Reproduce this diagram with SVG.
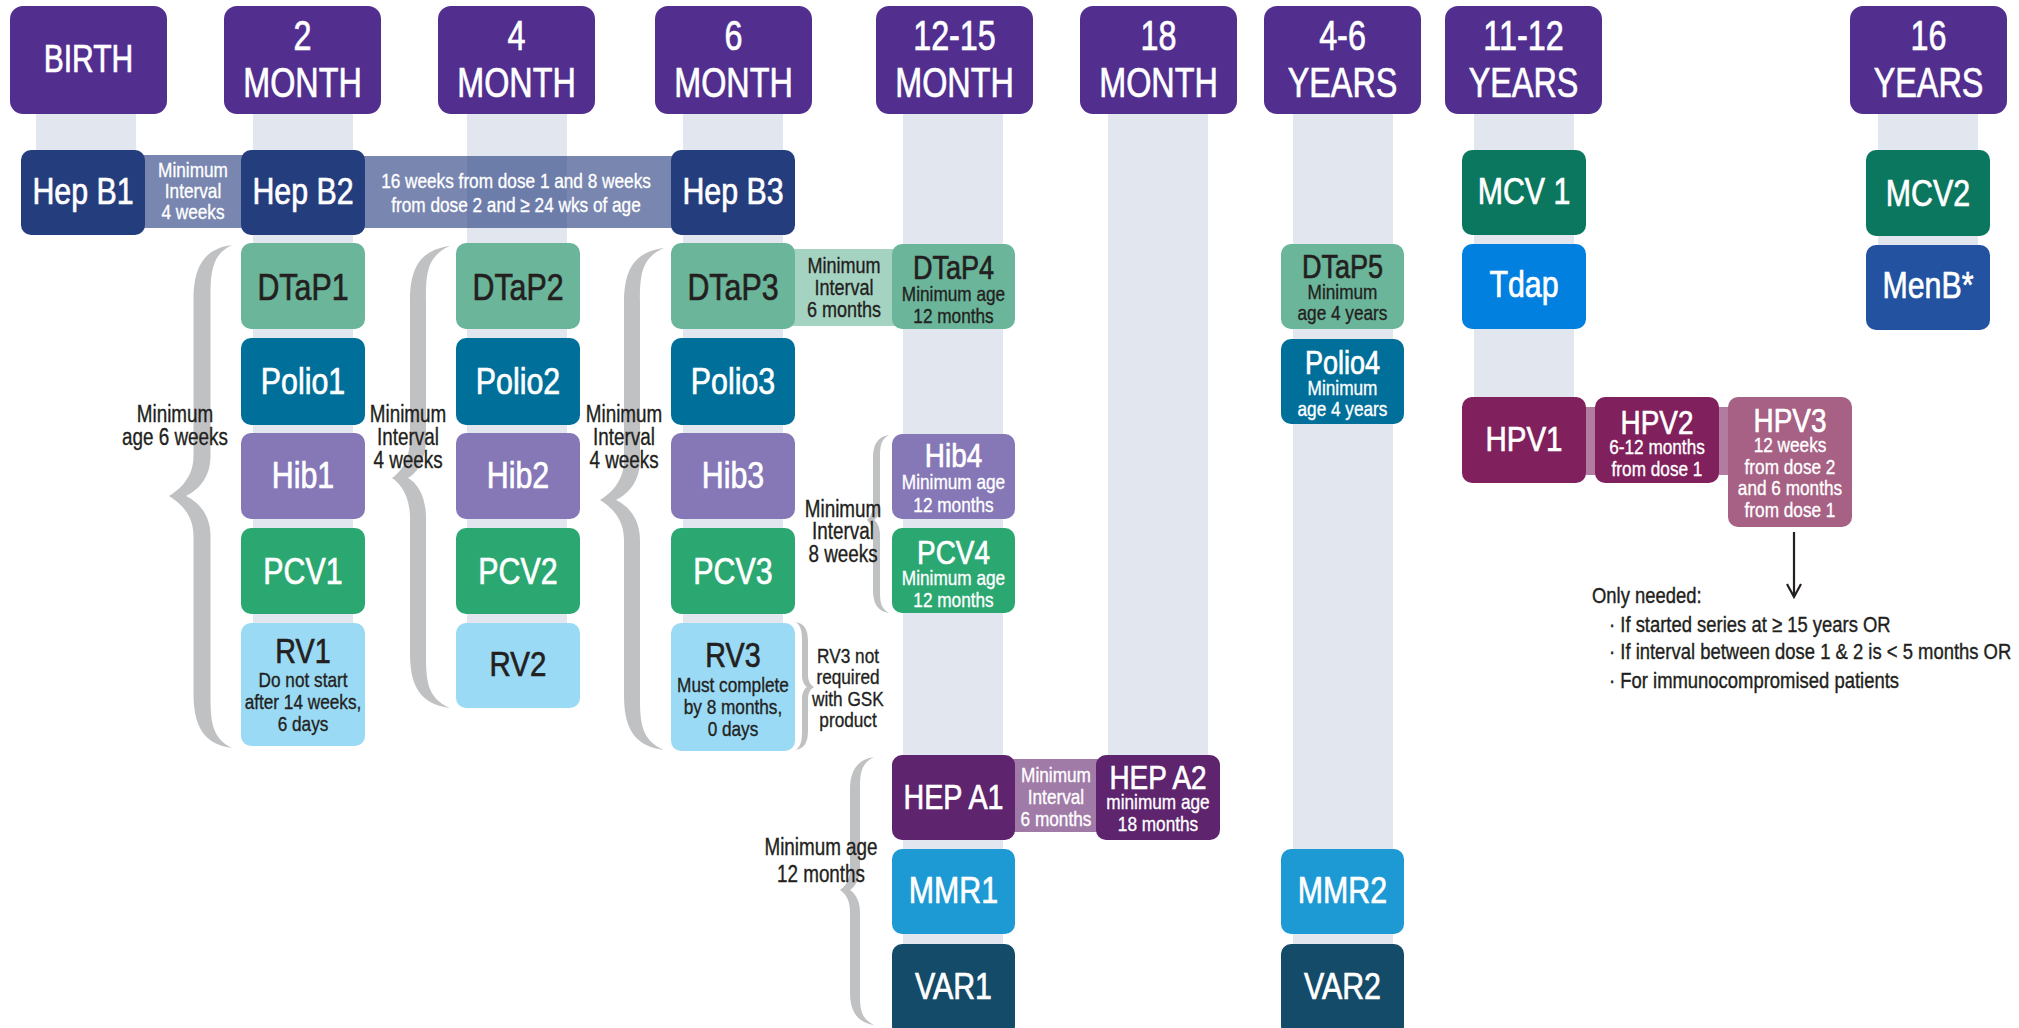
<svg xmlns="http://www.w3.org/2000/svg" width="2019" height="1028" viewBox="0 0 2019 1028">
<defs>
<style>
text{font-family:"Liberation Sans","Arial",sans-serif;text-anchor:middle;transform:scaleX(0.82);transform-box:fill-box;transform-origin:center}
.hdr rect{fill:#522F8F}
.hdr text{fill:#fff;stroke:#fff;stroke-width:0.7px;font-size:42px;transform:scaleX(0.77)}
.bar{fill:#E1E6EF}
.t{font-size:37px;fill:#fff;stroke:#fff;stroke-width:0.7px}
.td{font-size:37px;fill:#231F20;stroke:#231F20;stroke-width:0.7px}
.s{font-size:21px;fill:#fff;stroke:#fff;stroke-width:0.35px}
.sd{font-size:21px;fill:#231F20;stroke:#231F20;stroke-width:0.35px}
.lbl{font-size:23px;fill:#231F20;stroke:#231F20;stroke-width:0.35px}
.brace{fill:#C0C1C3}
.hepb{fill:#233D7D}
.dtap{fill:#6BB59A}
.polio{fill:#00709A}
.hib{fill:#8677B7}
.pcv{fill:#2BA872}
.rv{fill:#9ADAF5}
.hepa{fill:#5E246E}
.mmr{fill:#1D9AD4}
.var{fill:#144B69}
.mcv{fill:#0B775E}
.tdap{fill:#0280E0}
.menb{fill:#2352A0}
.hpv{fill:#80215D}
.hpv3{fill:#A66184}
.note{font-size:22.5px;fill:#231F20;stroke:#231F20;stroke-width:0.4px;text-anchor:start;transform-origin:left center}
</style>
</defs>
<rect width="2019" height="1028" fill="#fff"/>

<!-- column bars -->
<g id="bars">
<rect class="bar" x="36" y="113" width="100" height="40"/>
<rect class="bar" x="253" y="113" width="100" height="600"/>
<rect class="bar" x="467" y="113" width="100" height="540"/>
<rect class="bar" x="683" y="113" width="100" height="600"/>
<rect class="bar" x="903" y="113" width="100" height="915"/>
<rect class="bar" x="1108" y="113" width="100" height="680"/>
<rect class="bar" x="1293" y="113" width="100" height="915"/>
<rect class="bar" x="1474" y="113" width="100" height="320"/>
<rect class="bar" x="1878" y="113" width="100" height="170"/>
</g>

<!-- headers -->
<g id="h-birth" class="hdr"><rect x="10" y="6" width="157" height="108" rx="13"/><text x="88.5" y="72" style="font-size:39px">BIRTH</text></g>
<g id="h-2m" class="hdr"><rect x="224" y="6" width="157" height="108" rx="13"/><text x="302.5" y="50">2</text><text x="302.5" y="97">MONTH</text></g>
<g id="h-4m" class="hdr"><rect x="438" y="6" width="157" height="108" rx="13"/><text x="516.5" y="50">4</text><text x="516.5" y="97">MONTH</text></g>
<g id="h-6m" class="hdr"><rect x="655" y="6" width="157" height="108" rx="13"/><text x="733.5" y="50">6</text><text x="733.5" y="97">MONTH</text></g>
<g id="h-12m" class="hdr"><rect x="876" y="6" width="157" height="108" rx="13"/><text x="954.5" y="50">12-15</text><text x="954.5" y="97">MONTH</text></g>
<g id="h-18m" class="hdr"><rect x="1080" y="6" width="157" height="108" rx="13"/><text x="1158.5" y="50">18</text><text x="1158.5" y="97">MONTH</text></g>
<g id="h-4y" class="hdr"><rect x="1264" y="6" width="157" height="108" rx="13"/><text x="1342.5" y="50">4-6</text><text x="1342.5" y="97">YEARS</text></g>
<g id="h-11y" class="hdr"><rect x="1445" y="6" width="157" height="108" rx="13"/><text x="1523.5" y="50">11-12</text><text x="1523.5" y="97">YEARS</text></g>
<g id="h-16y" class="hdr"><rect x="1850" y="6" width="157" height="108" rx="13"/><text x="1928.5" y="50">16</text><text x="1928.5" y="97">YEARS</text></g>

<!-- connectors: interval bands, braces, arrow -->
<g id="connectors">
<rect x="140" y="155" width="106" height="73" fill="#253C80" fill-opacity="0.62"/>
<rect x="360" y="156" width="316" height="72" fill="#253C80" fill-opacity="0.62"/>
<rect x="790" y="249" width="107" height="77" fill="#A5D3C2"/>
<rect x="1010" y="759" width="91" height="73" fill="#A07BA8"/>
<rect x="1580" y="407" width="20" height="68" fill="#B27BA0"/>
<rect x="1714" y="407" width="20" height="68" fill="#B27BA0"/>
<path class="brace" d="M 232 245 C 201.5 249, 193.5 270, 193.5 300 L 193.5 456 C 193.5 481, 175 492, 169 496 C 175 500, 193.5 511, 193.5 536 L 193.5 693 C 193.5 723, 201.5 744, 232 748 C 210.5 738, 210.5 718, 210.5 693 L 210.5 536 C 210.5 508, 190 498, 186 496 C 190 494, 210.5 484, 210.5 456 L 210.5 300 C 210.5 275, 210.5 255, 232 245 Z"/>
<path class="brace" d="M 450 246 C 418 250, 410 271, 410 301 L 410 438 C 410 463, 398 474, 392 478 C 398 482, 410 493, 410 518 L 410 653 C 410 683, 418 704, 450 708 C 426 698, 426 678, 426 653 L 426 518 C 426 490, 412 480, 408 478 C 412 476, 426 466, 426 438 L 426 301 C 426 276, 426 256, 450 246 Z"/>
<path class="brace" d="M 664 248 C 632 252, 624 273, 624 303 L 624 460 C 624 485, 606 496, 600 500 C 606 504, 624 515, 624 540 L 624 695 C 624 725, 632 746, 664 750 C 640 740, 640 720, 640 695 L 640 540 C 640 512, 620 502, 616 500 C 620 498, 640 488, 640 460 L 640 303 C 640 278, 640 258, 664 248 Z"/>
<path class="brace" d="M 889 435 C 877 437, 873 445, 873 458 L 873 505 C 873 514, 869 518, 867 520 C 869 522, 873 526, 873 535 L 873 590 C 873 603, 877 611, 889 613 C 880 608, 880 600, 880 590 L 880 535 C 880 526, 876 521, 874 520 C 876 519, 880 514, 880 505 L 880 458 C 880 448, 880 440, 889 435 Z"/>
<path class="brace" d="M 796 622 C 805 624, 808 630, 808 642 L 808 675 C 808 682, 811 685, 814 687 C 811 689, 808 692, 808 699 L 808 730 C 808 742, 805 748, 796 750 C 802 745, 802 738, 802 730 L 802 699 C 802 692, 805 688, 807 687 C 805 686, 802 682, 802 675 L 802 642 C 802 634, 802 627, 796 622 Z"/>
<path class="brace" d="M 874 757 C 856 760, 850 772, 850 790 L 850 868 C 850 882, 844 887, 840 890 C 844 893, 850 898, 850 912 L 850 992 C 850 1010, 856 1022, 874 1025 C 860 1018, 860 1008, 860 992 L 860 912 C 860 898, 853 892, 850 890 C 853 888, 860 882, 860 868 L 860 790 C 860 775, 860 764, 874 757 Z"/>
<path d="M 1794 532 L 1794 597 M 1787 584 L 1794 597 L 1801 584" fill="none" stroke="#231F20" stroke-width="2.2"/>
</g>

<!-- interval / brace labels -->
<g id="labels">
<text class="s" x="193" y="177">Minimum</text><text class="s" x="193" y="198">Interval</text><text class="s" x="193" y="219">4 weeks</text>
<text class="s" x="516" y="188">16 weeks from dose 1 and 8 weeks</text><text class="s" x="516" y="212">from dose 2 and ≥ 24 wks of age</text>
<text class="sd" x="844" y="273" style="font-size:22px">Minimum</text><text class="sd" x="844" y="295" style="font-size:22px">Interval</text><text class="sd" x="844" y="317" style="font-size:22px">6 months</text>
<text class="s" x="1056" y="782">Minimum</text><text class="s" x="1056" y="804">Interval</text><text class="s" x="1056" y="826">6 months</text>
<text class="lbl" x="175" y="422">Minimum</text><text class="lbl" x="175" y="445">age 6 weeks</text>
<text class="lbl" x="408" y="422">Minimum</text><text class="lbl" x="408" y="445">Interval</text><text class="lbl" x="408" y="468">4 weeks</text>
<text class="lbl" x="624" y="422">Minimum</text><text class="lbl" x="624" y="445">Interval</text><text class="lbl" x="624" y="468">4 weeks</text>
<text class="lbl" x="843" y="517">Minimum</text><text class="lbl" x="843" y="539">Interval</text><text class="lbl" x="843" y="562">8 weeks</text>
<text class="sd" x="848" y="663">RV3 not</text><text class="sd" x="848" y="684">required</text><text class="sd" x="848" y="706">with GSK</text><text class="sd" x="848" y="727">product</text>
<text class="lbl" x="821" y="855">Minimum age</text><text class="lbl" x="821" y="882">12 months</text>
</g>

<!-- Birth -->
<g id="hepb1"><rect class="hepb" x="21" y="150" width="124" height="85" rx="10"/><text class="t" x="83" y="204">Hep B1</text></g>
<!-- 2 month -->
<g id="hepb2"><rect class="hepb" x="241" y="150" width="124" height="85" rx="10"/><text class="t" x="303" y="204">Hep B2</text></g>
<g id="dtap1"><rect class="dtap" x="241" y="243" width="124" height="86" rx="10"/><text class="td" x="303" y="300">DTaP1</text></g>
<g id="polio1"><rect class="polio" x="241" y="338" width="124" height="87" rx="10"/><text class="t" x="303" y="394">Polio1</text></g>
<g id="hib1"><rect class="hib" x="241" y="433" width="124" height="86" rx="10"/><text class="t" x="303" y="488">Hib1</text></g>
<g id="pcv1"><rect class="pcv" x="241" y="528" width="124" height="86" rx="10"/><text class="t" x="303" y="584">PCV1</text></g>
<g id="rv1"><rect class="rv" x="241" y="623" width="124" height="123" rx="10"/><text class="td" x="303" y="663" style="font-size:35px">RV1</text><text class="sd" x="303" y="687">Do not start</text><text class="sd" x="303" y="709">after 14 weeks,</text><text class="sd" x="303" y="731">6 days</text></g>
<!-- 4 month -->
<g id="dtap2"><rect class="dtap" x="456" y="243" width="124" height="86" rx="10"/><text class="td" x="518" y="300">DTaP2</text></g>
<g id="polio2"><rect class="polio" x="456" y="338" width="124" height="87" rx="10"/><text class="t" x="518" y="394">Polio2</text></g>
<g id="hib2"><rect class="hib" x="456" y="433" width="124" height="86" rx="10"/><text class="t" x="518" y="488">Hib2</text></g>
<g id="pcv2"><rect class="pcv" x="456" y="528" width="124" height="86" rx="10"/><text class="t" x="518" y="584">PCV2</text></g>
<g id="rv2"><rect class="rv" x="456" y="623" width="124" height="85" rx="10"/><text class="td" x="518" y="676" style="font-size:36px">RV2</text></g>
<!-- 6 month -->
<g id="hepb3"><rect class="hepb" x="671" y="150" width="124" height="85" rx="10"/><text class="t" x="733" y="204">Hep B3</text></g>
<g id="dtap3"><rect class="dtap" x="671" y="243" width="124" height="86" rx="10"/><text class="td" x="733" y="300">DTaP3</text></g>
<g id="polio3"><rect class="polio" x="671" y="338" width="124" height="87" rx="10"/><text class="t" x="733" y="394">Polio3</text></g>
<g id="hib3"><rect class="hib" x="671" y="433" width="124" height="86" rx="10"/><text class="t" x="733" y="488">Hib3</text></g>
<g id="pcv3"><rect class="pcv" x="671" y="528" width="124" height="86" rx="10"/><text class="t" x="733" y="584">PCV3</text></g>
<g id="rv3"><rect class="rv" x="671" y="623" width="124" height="128" rx="10"/><text class="td" x="733" y="667" style="font-size:35px">RV3</text><text class="sd" x="733" y="692">Must complete</text><text class="sd" x="733" y="714">by 8 months,</text><text class="sd" x="733" y="736">0 days</text></g>
<!-- 12-15 month -->
<g id="dtap4"><rect class="dtap" x="892" y="244" width="123" height="85" rx="10"/><text class="td" x="953.5" y="279" style="font-size:33px">DTaP4</text><text class="sd" x="953.5" y="301">Minimum age</text><text class="sd" x="953.5" y="323">12 months</text></g>
<g id="hib4"><rect class="hib" x="892" y="434" width="123" height="85" rx="10"/><text class="t" x="953.5" y="467" style="font-size:34px">Hib4</text><text class="s" x="953.5" y="489">Minimum age</text><text class="s" x="953.5" y="512">12 months</text></g>
<g id="pcv4"><rect class="pcv" x="892" y="528" width="123" height="85" rx="10"/><text class="t" x="953.5" y="564" style="font-size:34px">PCV4</text><text class="s" x="953.5" y="585">Minimum age</text><text class="s" x="953.5" y="607">12 months</text></g>
<g id="hepa1"><rect class="hepa" x="892" y="755" width="123" height="85" rx="10"/><text class="t" x="953.5" y="809" style="font-size:35px">HEP A1</text></g>
<g id="mmr1"><rect class="mmr" x="892" y="849" width="123" height="85" rx="10"/><text class="t" x="953.5" y="903">MMR1</text></g>
<g id="var1"><rect class="var" x="892" y="944" width="123" height="92" rx="10"/><text class="t" x="953.5" y="999">VAR1</text></g>
<!-- 18 month -->
<g id="hepa2"><rect class="hepa" x="1096" y="755" width="124" height="85" rx="10"/><text class="t" x="1158" y="789" style="font-size:34px">HEP A2</text><text class="s" x="1158" y="809">minimum age</text><text class="s" x="1158" y="831">18 months</text></g>
<!-- 4-6 years -->
<g id="dtap5"><rect class="dtap" x="1281" y="244" width="123" height="85" rx="10"/><text class="td" x="1342.5" y="278" style="font-size:33px">DTaP5</text><text class="sd" x="1342.5" y="299">Minimum</text><text class="sd" x="1342.5" y="320">age 4 years</text></g>
<g id="polio4"><rect class="polio" x="1281" y="339" width="123" height="85" rx="10"/><text class="t" x="1342.5" y="374" style="font-size:33px">Polio4</text><text class="s" x="1342.5" y="395">Minimum</text><text class="s" x="1342.5" y="416">age 4 years</text></g>
<g id="mmr2"><rect class="mmr" x="1281" y="849" width="123" height="85" rx="10"/><text class="t" x="1342.5" y="903">MMR2</text></g>
<g id="var2"><rect class="var" x="1281" y="944" width="123" height="92" rx="10"/><text class="t" x="1342.5" y="999">VAR2</text></g>
<!-- 11-12 years -->
<g id="mcv1"><rect class="mcv" x="1462" y="150" width="124" height="85" rx="10"/><text class="t" x="1524" y="204">MCV 1</text></g>
<g id="tdap"><rect class="tdap" x="1462" y="244" width="124" height="85" rx="10"/><text class="t" x="1524" y="297">Tdap</text></g>
<g id="hpv1"><rect class="hpv" x="1462" y="397" width="124" height="86" rx="10"/><text class="t" x="1524" y="451" style="font-size:36px">HPV1</text></g>
<g id="hpv2"><rect class="hpv" x="1595" y="397" width="124" height="86" rx="10"/><text class="t" x="1657" y="434" style="font-size:34px">HPV2</text><text class="s" x="1657" y="454">6-12 months</text><text class="s" x="1657" y="476">from dose 1</text></g>
<g id="hpv3"><rect class="hpv3" x="1728" y="397" width="124" height="130" rx="10"/><text class="t" x="1790" y="432" style="font-size:34px">HPV3</text><text class="s" x="1790" y="452">12 weeks</text><text class="s" x="1790" y="474">from dose 2</text><text class="s" x="1790" y="495">and 6 months</text><text class="s" x="1790" y="517">from dose 1</text></g>
<!-- 16 years -->
<g id="mcv2"><rect class="mcv" x="1866" y="150" width="124" height="86" rx="10"/><text class="t" x="1928" y="206">MCV2</text></g>
<g id="menb"><rect class="menb" x="1866" y="245" width="124" height="85" rx="10"/><text class="t" x="1928" y="298">MenB*</text></g>

<!-- note -->
<g id="note">
<text class="note" x="1592" y="603">Only needed:</text>
<text class="note" x="1609" y="632">· If started series at ≥ 15 years OR</text>
<text class="note" x="1609" y="659">· If interval between dose 1 &amp; 2 is &lt; 5 months OR</text>
<text class="note" x="1609" y="688">· For immunocompromised patients</text>
</g>
</svg>
